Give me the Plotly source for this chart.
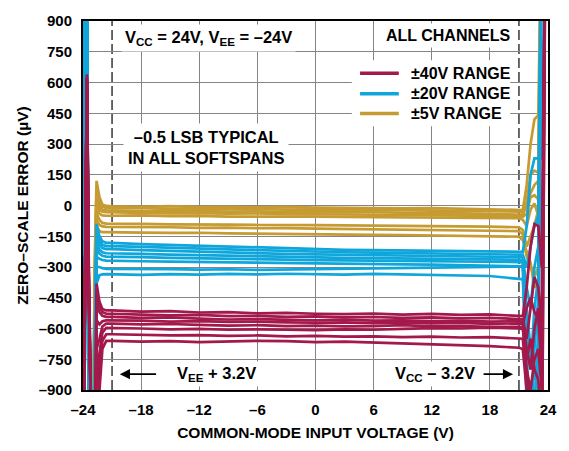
import plotly.graph_objects as go

# ---------------- data ----------------
LEFT_X = [-24.0, -23.8, -23.6, -23.4, -23.2, -23.0, -22.8, -22.6, -22.3, -22.0, -21.6]
MID_X = [-21, -18, -15, -12, -9, -6, -3, 0, 3, 6, 9, 12, 15, 18, 21]
RIGHT_X = [21.4, 21.8, 22.2, 22.6, 23.0, 23.35, 23.75, 24.0]

# ±5V range (gold), 8 channels
GOLD_LEFT = [
    [-1500, 1500, 1500, -1500, -1500, -1500, -300, 120, 40, 5, -2],
    [-1500, 1500, 1500, -1500, -1500, -1500, -350, 90, 20, -5, -12],
    [-1500, 1500, 1500, -1500, -1500, -1500, -400, 60, -5, -20, -24],
    [-1500, 1500, 1500, -1500, -1500, -1500, -450, 30, -20, -30, -33],
    [-1500, 1500, 1500, -1500, -1500, -1500, -500, -10, -40, -48, -50],
    [-1500, 1500, 1500, -1500, -1500, -1500, -550, -40, -70, -85, -88],
    [-1500, 1500, 1500, -1500, -1500, -1500, -600, -70, -95, -102, -104],
    [-1500, 1500, 1500, -1500, -1500, -1500, -650, -100, -125, -130, -130],
]
GOLD_MID = [
    [-4, -6, -3, -8, -6, -9, -7, -10, -12, -11, -14, -13, -16, -18, -20],
    [-14, -12, -16, -15, -18, -17, -20, -19, -22, -24, -23, -26, -27, -28, -30],
    [-25, -27, -24, -28, -30, -29, -32, -31, -34, -33, -36, -37, -38, -40, -42],
    [-34, -36, -38, -37, -40, -39, -42, -44, -43, -45, -46, -48, -47, -50, -52],
    [-50, -48, -52, -51, -54, -53, -55, -54, -56, -57, -56, -58, -59, -60, -62],
    [-88, -90, -92, -91, -93, -95, -94, -96, -97, -99, -98, -100, -102, -103, -106],
    [-104, -107, -106, -109, -108, -111, -110, -113, -115, -114, -117, -118, -120, -122, -125],
    [-130, -132, -134, -133, -136, -138, -137, -140, -141, -143, -144, -146, -147, -149, -152],
]
GOLD_RIGHT = [
    [-22, 100, 300, 420, 440, 1500, 1500, 1500],
    [-35, 20, 150, 170, 160, 1500, 1500, 1500],
    [-45, 0, 60, 100, 120, 1500, 1500, 1500],
    [-55, -40, 40, 50, 30, 1500, 1500, 1500],
    [-70, -100, -20, 10, -50, 1500, 1500, 1500],
    [-120, -200, -150, -100, -20, 1500, 1500, 1500],
    [-140, -250, -300, -350, -300, 1500, 1500, 1500],
    [-170, -220, -280, -400, -380, 1500, 1500, 1500],
]

# ±20V range (blue)
BLUE_LEFT = [
    [-1500, 1500, 1500, -1500, -1500, -1500, -700, -90, -150, -175, -182],
    [-1500, 1500, 1500, -1500, -1500, -1500, -750, -120, -170, -192, -198],
    [-1500, 1500, 1500, -1500, -1500, -1500, -800, -150, -190, -208, -213],
    [-1500, 1500, 1500, -1500, -1500, -1500, -850, -180, -215, -228, -233],
    [-1500, 1500, 1500, -1500, -1500, -1500, -900, -210, -235, -245, -249],
    [-1500, 1500, 1500, -1500, -1500, -1500, -950, -250, -260, -266, -269],
    [-1500, 1500, 1500, -1500, -1500, -1500, -1000, -300, -300, -306, -309],
    [-1500, 1500, 1500, -1500, -1500, -1500, -1050, -380, -340, -336, -335],
]
BLUE_MID = [
    [-182, -188, -192, -198, -202, -206, -210, -213, -216, -218, -220, -222, -221, -223, -225],
    [-198, -202, -205, -210, -214, -218, -222, -226, -228, -230, -232, -234, -233, -236, -238],
    [-213, -218, -222, -226, -230, -233, -236, -238, -240, -242, -244, -245, -246, -248, -250],
    [-233, -236, -240, -243, -246, -249, -252, -254, -255, -257, -258, -259, -260, -261, -263],
    [-249, -252, -255, -258, -260, -262, -264, -266, -267, -268, -270, -271, -272, -274, -276],
    [-269, -272, -274, -276, -278, -280, -282, -283, -285, -286, -287, -288, -290, -292, -295],
    [-309, -312, -310, -313, -311, -314, -312, -310, -308, -306, -305, -303, -302, -300, -298],
    [-336, -338, -335, -337, -334, -336, -333, -335, -337, -334, -336, -338, -340, -344, -358],
]
BLUE_RIGHT = [
    [-226, -100, 150, 230, 230, 230, 1500, 1500],
    [-240, -300, -200, -100, -50, 1500, 1500, 1500],
    [-252, -400, -500, -300, -200, 1500, 1500, 1500],
    [-265, -600, -800, -500, -350, 1500, 1500, 1500],
    [-278, -800, -1200, -700, -450, 1500, 1500, 1500],
    [-297, -1000, -1500, -1000, -600, 1500, 1500, 1500],
    [-300, -500, -700, -850, -750, 1500, 1500, 1500],
    [-360, -700, -1500, -1500, -800, 1500, 1500, 1500],
]

# ±40V range (red)
RED_LEFT = [
    [-1500, -200, 620, -300, -1500, -1500, -1500, -380, -470, -505, -512],
    [-1500, -250, 600, -350, -1500, -1500, -1500, -420, -490, -520, -528],
    [-1500, -300, 640, -400, -1500, -1500, -1500, -480, -520, -538, -543],
    [-1500, -250, 610, -350, -1500, -1500, -1500, -560, -580, -565, -560],
    [-1500, -300, 630, -400, -1500, -1500, -1500, -700, -650, -590, -576],
    [-1500, -350, 590, -450, -1500, -1500, -1500, -850, -720, -620, -597],
    [-1500, -300, 620, -400, -1500, -1500, -1500, -1200, -800, -660, -628],
    [-1500, -350, 600, -450, -1500, -1500, -1500, -1500, -900, -700, -660],
]
RED_MID = [
    [-512, -518, -515, -522, -520, -526, -524, -528, -530, -527, -532, -529, -534, -531, -536],
    [-528, -532, -536, -534, -540, -538, -543, -541, -546, -544, -548, -546, -550, -548, -552],
    [-543, -548, -546, -552, -556, -554, -558, -560, -557, -562, -560, -564, -562, -566, -564],
    [-560, -562, -566, -564, -568, -566, -570, -572, -570, -574, -572, -575, -573, -577, -575],
    [-576, -580, -578, -582, -586, -584, -588, -586, -590, -588, -584, -590, -588, -592, -590],
    [-597, -600, -604, -602, -606, -604, -606, -608, -604, -606, -602, -598, -600, -596, -600],
    [-628, -630, -634, -632, -636, -634, -638, -636, -640, -638, -642, -640, -644, -642, -648],
    [-660, -664, -662, -666, -664, -660, -662, -666, -664, -668, -672, -676, -680, -686, -694],
]
RED_RIGHT = [
    [-540, -400, -200, -90, -100, -300, 1500, 1500],
    [-555, -650, -500, -350, -400, -600, 1500, 1500],
    [-568, -700, -800, -600, -500, -700, 1500, 1500],
    [-578, -500, -450, -520, -550, -800, 1500, 1500],
    [-592, -800, -900, -750, -700, -900, 1500, 1500],
    [-602, -750, -650, -800, -850, -1100, 1500, 1500],
    [-650, -850, -1000, -900, -1000, -1500, 1500, 1500],
    [-700, -900, -1200, -1500, -1500, -1500, 1500, 1500],
]

X_TICKS = [-24, -18, -12, -6, 0, 6, 12, 18, 24]
X_TICKTEXT = ["–24", "–18", "–12", "–6", "0", "6", "12", "18", "24"]
Y_TICKS = [-900, -750, -600, -450, -300, -150, 0, 150, 300, 450, 600, 750, 900]
Y_TICKTEXT = ["–900", "–750", "–600", "–450", "–300", "–150", "0", "150", "300", "450", "600", "750", "900"]

SERIES = [
    ("±5V RANGE", "#C59B32", GOLD_LEFT, GOLD_MID, GOLD_RIGHT),
    ("±20V RANGE", "#0FA6DB", BLUE_LEFT, BLUE_MID, BLUE_RIGHT),
    ("±40V RANGE", "#A3194B", RED_LEFT, RED_MID, RED_RIGHT),
]
LEGEND_ORDER = ["±40V RANGE", "±20V RANGE", "±5V RANGE"]
LEGEND_Y = [645, 545, 449]

FONT = "Liberation Sans, Arial, sans-serif"

fig = go.Figure()
x_all = LEFT_X + MID_X + RIGHT_X
for name, color, lefts, mids, rights in SERIES:
    for l, m, r in zip(lefts, mids, rights):
        fig.add_trace(go.Scatter(
            x=x_all, y=l + m + r, mode="lines",
            line=dict(color=color, width=2.7), showlegend=False, hoverinfo="skip"))

shapes = []
# legend background
shapes.append(dict(type="rect", xref="x", yref="y", x0=3.75, x1=20.1, y0=386, y1=708,
                   fillcolor="white", line=dict(width=0), layer="between"))
# dashed headroom lines
for xv in (-21.0, 21.0):
    shapes.append(dict(type="line", xref="x", yref="paper", x0=xv, x1=xv, y0=0, y1=1,
                       line=dict(color="#444444", width=1.6, dash="10px,4px"), layer="between"))
colors = {s[0]: s[1] for s in SERIES}
for name, yv in zip(LEGEND_ORDER, LEGEND_Y):
    shapes.append(dict(type="line", xref="x", yref="y", x0=4.6, x1=8.6, y0=yv, y1=yv,
                       line=dict(color=colors[name], width=3.5), layer="above"))

txt_font = dict(family=FONT, size=16, color="black", weight="bold")

annotations = []
for name, yv in zip(LEGEND_ORDER, LEGEND_Y):
    annotations.append(dict(x=9.6, y=yv, xref="x", yref="y", text=name, showarrow=False,
                            xanchor="left", yanchor="middle", font=txt_font))

annotations += [
    dict(x=-11.0, y=818, xref="x", yref="y", showarrow=False, bgcolor="white", borderpad=3,
         text="V<sub>CC</sub> = 24V, V<sub>EE</sub> = –24V",
         font=dict(family=FONT, size=16.5, color="black", weight="bold")),
    dict(x=13.7, y=828, xref="x", yref="y", showarrow=False, bgcolor="white", borderpad=3,
         text="ALL CHANNELS", font=txt_font),
    dict(x=-11.3, y=282, xref="x", yref="y", showarrow=False, bgcolor="white", borderpad=4,
         text="–0.5 LSB TYPICAL<br>IN ALL SOFTSPANS",
         font=dict(family=FONT, size=16.5, color="black", weight="bold"), align="center"),
    dict(x=-10.2, y=-823, xref="x", yref="y", showarrow=False, bgcolor="white", borderpad=2,
         text="V<sub>EE</sub> + 3.2V", font=dict(family=FONT, size=16.5, color="black", weight="bold")),
    dict(x=12.3, y=-823, xref="x", yref="y", showarrow=False, bgcolor="white", borderpad=2,
         text="V<sub>CC</sub> – 3.2V", font=dict(family=FONT, size=16.5, color="black", weight="bold")),
    dict(x=-20.2, y=-823, ax=-16.3, ay=-823, xref="x", yref="y", axref="x", ayref="y",
         text="", showarrow=True, arrowhead=2, arrowsize=1.2, arrowwidth=1.7, arrowcolor="black"),
    dict(x=20.4, y=-823, ax=17.2, ay=-823, xref="x", yref="y", axref="x", ayref="y",
         text="", showarrow=True, arrowhead=2, arrowsize=1.2, arrowwidth=1.7, arrowcolor="black"),
]

tick_font = dict(family=FONT, size=15, color="black", weight="bold")
axis_common = dict(showline=True, linecolor="black", linewidth=2, mirror=True,
                   showgrid=True, gridcolor="#858585", gridwidth=1.3, zeroline=False,
                   ticks="", tickfont=tick_font)

fig.update_layout(
    width=569, height=451,
    margin=dict(l=83, r=19, t=18, b=58),
    paper_bgcolor="white", plot_bgcolor="white",
    shapes=shapes, annotations=annotations, showlegend=False,
    xaxis=dict(range=[-24, 24], tickvals=X_TICKS, ticktext=X_TICKTEXT,
               ticklabelstandoff=5,
               title=dict(text="COMMON-MODE INPUT VOLTAGE (V)", standoff=10,
                          font=dict(family=FONT, size=15.5, color="black", weight="bold")),
               **axis_common),
    yaxis=dict(range=[-900, 900], tickvals=Y_TICKS, ticktext=Y_TICKTEXT,
               ticklabelstandoff=6,
               title=dict(text="ZERO–SCALE ERROR (µV)", standoff=6,
                          font=dict(family=FONT, size=15.5, color="black", weight="bold")),
               **axis_common),
)

fig.write_html("out.html")
